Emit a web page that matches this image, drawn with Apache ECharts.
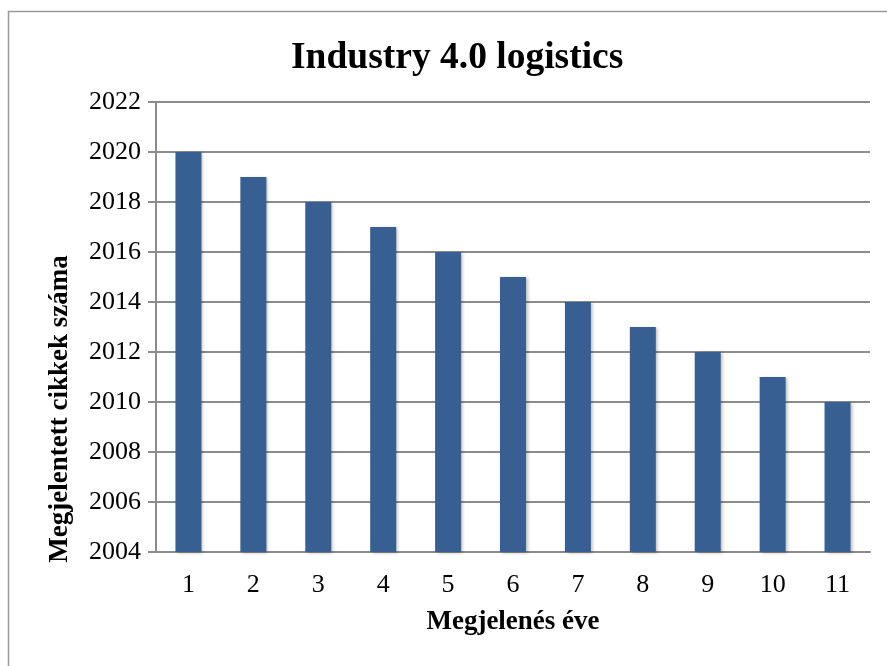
<!DOCTYPE html>
<html>
<head>
<meta charset="utf-8">
<script src="https://cdn.jsdelivr.net/npm/echarts@6/dist/echarts.min.js"></script>
<style>
  html, body { margin: 0; padding: 0; background: #ffffff; }
  #chart { width: 887px; height: 666px; }
</style>
</head>
<body>
<div id="chart"></div>
<script>
// Datos del gráfico
var categories = ["1", "2", "3", "4", "5", "6", "7", "8", "9", "10", "11"];
var values = [2020, 2019, 2018, 2017, 2016, 2015, 2014, 2013, 2012, 2011, 2010];
var yMin = 2004;
var yMax = 2022;
var yStep = 2;

var chartDom = document.getElementById("chart");
var myChart = echarts.init(chartDom);

var fontFamily = "'Liberation Serif', 'Times New Roman', serif";
var gridColor = "#8c8c8c";

var option = {
    backgroundColor: "#ffffff",
    animation: false,
    title: {
        text: "Industry 4.0 logistics",
        left: 286,
        top: 34,
        textStyle: { fontFamily: fontFamily, fontSize: 37.5, fontWeight: "bold", color: "#000" }
    },
    // marco exterior
    graphic: [
        {
            type: "rect",
            shape: { x: 8.5, y: 11.5, width: 900, height: 700 },
            style: { fill: "none", stroke: "#9a9a9a", lineWidth: 1.5 },
            silent: true
        }
    ],
    grid: { left: 156, right: 17, top: 102, bottom: 114 },
    xAxis: {
        type: "category",
        data: categories,
        name: "Megjelenés éve",
        nameLocation: "middle",
        nameGap: 57,
        nameTextStyle: { fontFamily: fontFamily, fontSize: 27, fontWeight: "bold", color: "#000" },
        axisLine: { lineStyle: { color: gridColor, width: 2 } },
        axisTick: { show: false },
        axisLabel: { fontFamily: fontFamily, fontSize: 26, color: "#000", margin: 20 }
    },
    yAxis: {
        type: "value",
        min: yMin,
        max: yMax,
        interval: yStep,
        name: "Megjelentett cikkek száma",
        nameLocation: "middle",
        nameGap: 82,
        nameTextStyle: {
            fontFamily: fontFamily, fontSize: 27, fontWeight: "bold", color: "#000",
            padding: [0, 164, 0, 0]
        },
        axisLine: { show: true, lineStyle: { color: gridColor, width: 2 } },
        axisTick: { show: true, length: 8, lineStyle: { color: gridColor, width: 2 } },
        axisLabel: { fontFamily: fontFamily, fontSize: 26, color: "#000", margin: 15, formatter: function (v) { return String(v); } },
        splitLine: { lineStyle: { color: gridColor, width: 2 } }
    },
    series: [
        {
            type: "bar",
            data: values,
            barWidth: 26,
            itemStyle: {
                color: "#375f91",
                shadowColor: "rgba(0,0,0,0.25)",
                shadowBlur: 3,
                shadowOffsetX: 2,
                shadowOffsetY: 1
            }
        }
    ]
};

myChart.setOption(option);
</script>
</body>
</html>
